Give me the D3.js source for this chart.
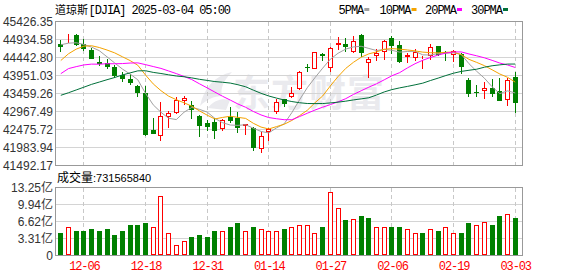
<!DOCTYPE html>
<html><head><meta charset="utf-8">
<script src="https://cdn.jsdelivr.net/npm/d3@7/dist/d3.min.js"></script>
<style>html,body{margin:0;padding:0;background:#fff}svg{display:block}</style>
</head><body>
<svg id="c" width="578" height="276"></svg>
<script>
// ---------- DATA ----------
const dates = ["12-03","12-04","12-05","12-06","12-09","12-10","12-11","12-12","12-13","12-16",
"12-17","12-18","12-19","12-20","12-23","12-24","12-26","12-27","12-30","12-31",
"01-02","01-03","01-06","01-07","01-08","01-10","01-13","01-14","01-15","01-16",
"01-17","01-21","01-22","01-23","01-24","01-27","01-28","01-29","01-30","01-31",
"02-03","02-04","02-05","02-06","02-07","02-10","02-11","02-12","02-13","02-14",
"02-18","02-19","02-20","02-21","02-24","02-25","02-26","02-27","02-28","03-03"];
const openP = [44798,44995,45060,44814,44642,44323,44306,44170,43967,43869,
43667,43468,42456,42301,42820,42940,43241,43140,42858,42640,
42675,42492,42820,42793,42566,42530,41937,42394,42948,43303,
43350,43569,44175,44142,44552,44160,44787,44825,44580,45071,
44295,44497,44596,44962,44779,44443,44432,44380,44478,44760,
44590,44524,44552,43823,43505,43531,43623,43522,43295,43913];
const highP = [44915,45080,45088,44935,44705,44478,44396,44232,44050,43987,
43686,43667,42793,43222,42984,43350,43394,43249,42866,42730,
42784,42765,43104,42948,42635,42540,42410,42510,43303,43310,
43640,44068,44252,44595,44555,44732,45005,44962,45025,45075,
44459,44688,44915,45025,44888,44579,44670,44487,44798,44765,
44614,44640,44555,43896,43705,43768,43869,43896,43896,44050];
const lowP = [44596,44830,44752,44623,44396,44213,44142,43896,43776,43686,
43350,42301,42360,42164,42530,42886,43140,42765,42274,42429,
42203,42429,42640,42383,42338,41891,41836,42175,42912,43104,
43345,43560,44060,44135,44350,44033,44661,44596,44569,44443,
43896,44350,44388,44552,44295,44295,44350,44123,44388,44486,
44350,44323,43987,43366,43366,43312,43350,43245,43112,42930];
const closeP = [44743,45010,44787,44678,44415,44260,44170,43940,43850,43733,
43476,42320,42366,42839,42914,43295,43323,43022,42574,42547,
42437,42730,42702,42530,42629,41957,42293,42503,43214,43186,
43486,44041,44160,44588,44478,44716,44852,44732,44880,44569,
44415,44569,44888,44752,44323,44505,44596,44400,44732,44524,
44565,44634,44186,43459,43490,43623,43459,43249,43841,43203];
const prevClose = 44782; // close before the first bar (colours the first volume bar)
// volume in 亿 (1e8 shares)
const volume = [4.35,5.65,4.74,4.74,5.07,4.87,5.26,3.90,4.74,5.85,
6.04,6.43,5.65,11.50,4.48,2.14,2.73,3.70,3.90,3.57,
4.68,4.68,5.65,6.24,4.68,5.46,5.07,4.68,4.87,5.07,
5.65,6.04,6.04,4.48,5.46,12.47,9.29,7.01,7.15,7.79,
7.21,5.65,5.65,5.46,5.65,5.07,4.48,4.48,5.20,4.87,
5.65,4.48,4.48,6.24,6.04,6.57,6.04,7.60,8.18,7.32];
const ma5 = [44790,44835,44846,44799,44726,44629,44462,44293,44127,43991,
43834,43464,43149,42947,42783,42747,42947,43079,43026,42952,
42781,42662,42598,42589,42606,42510,42422,42382,42519,42631,
42936,43286,43617,43892,44151,44397,44559,44673,44732,44750,
44690,44633,44664,44639,44589,44607,44613,44515,44511,44551,
44562,44570,44527,44273,44066,43878,43643,43456,43532,43475];
const ma10 = [44360,44545,44671,44752,44764,44716,44647,44569,44463,44358,
44231,43963,43721,43537,43387,43290,43206,43114,42986,42868,
42764,42805,42838,42807,42779,42645,42542,42490,42554,42618,
42723,42854,43000,43206,43391,43667,43922,44145,44312,44450,
44543,44596,44669,44685,44670,44649,44623,44590,44575,44570,
44585,44591,44521,44392,44309,44220,44107,43992,43903,43770];
const ma20 = [44001,44140,44193,44240,44262,44260,44273,44272,44277,44291,
44296,44248,44196,44145,44075,44003,43926,43841,43725,43613,
43498,43384,43280,43172,43083,42968,42874,42802,42770,42743,
42743,42829,42919,43007,43085,43156,43232,43318,43433,43534,
43633,43725,43834,43945,44030,44158,44273,44368,44443,44510,
44564,44594,44595,44539,44489,44434,44365,44291,44239,44170];
const ma30 = [43410,43480,43556,43632,43709,43772,43836,43896,43966,44022,
44078,44081,44036,44006,43970,43937,43917,43886,43847,43817,
43785,43767,43744,43699,43643,43551,43465,43391,43334,43281,
43239,43207,43186,43183,43185,43201,43223,43250,43284,43312,
43343,43418,43502,43566,43613,43653,43696,43742,43814,43880,
43950,44014,44063,44094,44123,44178,44217,44242,44263,44264];
const priceTicks = [41492.17,41983.94,42475.72,42967.49,43459.26,43951.03,44442.80,44934.58,45426.35];
const volTicks = [0,3.31,6.62,9.94,13.25];
const tickLabels = ["12-06","12-18","12-31","01-14","01-27","02-06","02-19","03-03"];
const maNames = ["5PMA","10PMA","20PMA","30PMA"];
const lastVolume = "731565840";
const title = ["道琼斯","[DJIA] 2025-03-04 05:00"];

// ---------- STYLE ----------
const RED = "#ff0000", GREEN = "#008000";
const maColors = ["#a0a0a0","#f5a300","#ff00ff","#00703a"];
const FRAME = "#999999", GRID = "#d4d4d4";
const MONO = "'Liberation Mono','DejaVu Sans Mono',monospace";
const SANS = "'Liberation Sans',Arial,sans-serif";
const CJK = "'Noto Sans CJK SC',sans-serif";

const svg = d3.select("#c");
const rows = dates.map((d,i)=>({d,i,o:openP[i],h:highP[i],l:lowP[i],c:closeP[i],v:volume[i],
  volUp: closeP[i] >= (i ? closeP[i-1] : prevClose)}));

const frameL = 55.5, frameR = 522.5;
const x = d3.scalePoint().domain(dates).range([60.3, 514.7]);
const y = d3.scaleLinear().domain([priceTicks[0], priceTicks[priceTicks.length-1]]).range([165.5, 21.5]);
const yv = d3.scaleLinear().domain([0, 13.25]).range([255.5, 187.5]);
const px = d => Math.round(x(d));

// watermark
const wm = svg.append("g").attr("fill","#eaeaee");
wm.append("text").attr("x",233).attr("y",107).attr("font-family",CJK).attr("font-weight","bold")
  .attr("font-size",37).attr("letter-spacing",1).text("东方财富");
wm.append("path").attr("d","M200,106 C204,88 214,76 232,72 C224,80 220,88 222,96 C214,96 206,100 200,106 Z M208,108 C214,100 222,98 230,100 L226,110 Z");

// ---------- grids ----------
function grid(g, ys, top, bottom){
  g.selectAll(".h").data(ys).join("line").attr("x1",frameL).attr("x2",frameR)
    .attr("y1",d=>d).attr("y2",d=>d).attr("stroke",GRID);
  g.selectAll(".v").data(tickLabels).join("line").attr("x1",d=>px(d)+0.5).attr("x2",d=>px(d)+0.5)
    .attr("y1",top).attr("y2",bottom).attr("stroke","#c8c8c8").attr("stroke-dasharray","4,3");
}
grid(svg.append("g"), priceTicks.slice(1,-1).map(y), 22, 165);
grid(svg.append("g"), volTicks.slice(1,-1).map(yv), 188, 255);

// ---------- price axis ----------
const yAxis = d3.axisLeft(y).tickValues(priceTicks).tickFormat(d3.format(".2f")).tickSize(0).tickPadding(0);
const ya = svg.append("g").attr("transform","translate(53,0)").call(yAxis);
ya.select(".domain").remove();
ya.selectAll("text").attr("font-family",SANS).attr("font-size",12).attr("fill","#333").attr("dy","0.36em");

const vAxis = d3.axisLeft(yv).tickValues(volTicks).tickFormat(d=> d===0 ? "0" : d3.format(".2f")(d)+"亿").tickSize(0).tickPadding(0);
const va = svg.append("g").attr("transform","translate(53,0)").call(vAxis);
va.select(".domain").remove();
va.selectAll("text").attr("font-family",SANS+","+CJK).attr("font-size",12).attr("fill","#333").attr("dy","0.36em");

// ---------- candles ----------
const cg = svg.append("g");
rows.forEach(r=>{
  const cx = px(r.d);
  const up = r.c > r.o;
  const col = up ? RED : GREEN;
  const yt = Math.round(y(Math.max(r.o,r.c))), yb = Math.round(y(Math.min(r.o,r.c)));
  const yh = Math.round(y(r.h)), yl = Math.round(y(r.l));
  if (up) {
    cg.append("line").attr("x1",cx+0.5).attr("x2",cx+0.5).attr("y1",yh).attr("y2",yt).attr("stroke",col);
    cg.append("line").attr("x1",cx+0.5).attr("x2",cx+0.5).attr("y1",yb).attr("y2",yl).attr("stroke",col);
    cg.append("rect").attr("x",cx-1.5).attr("y",yt+0.5).attr("width",4).attr("height",Math.max(yb-yt-1,0))
      .attr("fill","#fff").attr("stroke",col);
  } else {
    cg.append("line").attr("x1",cx+0.5).attr("x2",cx+0.5).attr("y1",yh).attr("y2",yl).attr("stroke",col);
    cg.append("rect").attr("x",cx-2).attr("y",yt).attr("width",5).attr("height",Math.max(yb-yt,1)).attr("fill",col);
  }
});

// ---------- MA lines ----------
const mg = svg.append("g").attr("fill","none").attr("stroke-width",1);
[ma5,ma10,ma20,ma30].forEach((arr,k)=>{
  mg.append("path").attr("d", d3.line().x((v,i)=>x(dates[i])+0.5).y(v=>y(v))(arr)).attr("stroke",maColors[k]);
});

// ---------- volume bars ----------
const vg = svg.append("g");
rows.forEach(r=>{
  const cx = px(r.d);
  const yt = Math.round(yv(r.v));
  if (r.volUp) {
    vg.append("rect").attr("x",cx-1.5).attr("y",yt+0.5).attr("width",4).attr("height",255-yt-1)
      .attr("fill","#fff").attr("stroke",RED);
  } else {
    vg.append("rect").attr("x",cx-2).attr("y",yt).attr("width",5).attr("height",255-yt).attr("fill",GREEN);
  }
});

// ---------- frames ----------
svg.append("rect").attr("x",frameL).attr("y",21.5).attr("width",frameR-frameL).attr("height",144)
  .attr("fill","none").attr("stroke",FRAME);
svg.append("rect").attr("x",frameL).attr("y",187.5).attr("width",frameR-frameL).attr("height",68)
  .attr("fill","none").attr("stroke",FRAME);

// ---------- date axis ----------
const xAxis = d3.axisBottom(x).tickValues(tickLabels).tickSize(0).tickPadding(0);
const xa = svg.append("g").attr("transform","translate(0.5,261)").call(xAxis);
xa.select(".domain").remove();
xa.selectAll("text").attr("font-family",MONO).attr("font-size",12).attr("letter-spacing","-1.1px")
  .attr("fill",RED).attr("dy","0.72em");

// ---------- title & legend ----------
const t = svg.append("text").attr("y",14).attr("fill","#000").attr("font-size",12);
t.append("tspan").attr("x",55).attr("font-family",CJK).attr("font-size",11).text(title[0]);
t.append("tspan").attr("x",88.5).attr("font-family",MONO).attr("letter-spacing","-1.05px").text(title[1]);

const legX = [338.5,379.5,425,471];
const lg = svg.append("g");
maNames.forEach((n,k)=>{
  lg.append("text").attr("x",legX[k]).attr("y",14).attr("font-family",MONO).attr("font-size",12)
    .attr("letter-spacing","-1px").attr("fill","#000").text(n);
  const tw = n.length*6.2;
  lg.append("rect").attr("x",legX[k]+tw+1).attr("y",8).attr("width",5).attr("height",3).attr("fill",maColors[k]);
});

const vt = svg.append("text").attr("y",182).attr("fill","#000");
vt.append("tspan").attr("x",57).attr("font-family",CJK).attr("font-size",12).text("成交量");
vt.append("tspan").attr("font-family",SANS).attr("font-size",11).text(":"+lastVolume);
</script>
</body></html>
